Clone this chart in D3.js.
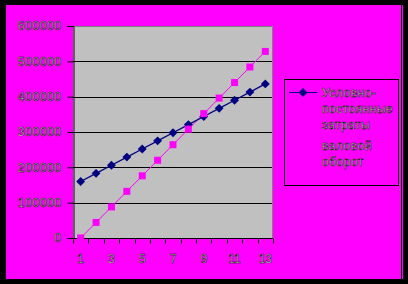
<!DOCTYPE html>
<html>
<head>
<meta charset="utf-8">
<script src="https://cdn.jsdelivr.net/npm/d3@7"></script>
<style>
  body { margin: 0; background: #000; }
  svg { display: block; }
  text { font-family: "Liberation Sans", Arial, sans-serif; }
</style>
</head>
<body>
<svg id="chart" width="408" height="284"></svg>
<script>
const periods = [1, 2, 3, 4, 5, 6, 7, 8, 9, 10, 11, 12, 13];
const fixedCosts = [160000, 183000, 206000, 229000, 252000, 275000, 298000, 321000, 344000, 367000, 390000, 413000, 436000];
const grossTurnover = [0, 44000, 88000, 132000, 176000, 220000, 264000, 308000, 352000, 396000, 440000, 484000, 528000];
const yTicks = [0, 100000, 200000, 300000, 400000, 500000, 600000];
const seriesNames = [["Условно-", "постоянные", "затраты"], ["валовой", "оборот"]];

const svg = d3.select("#chart");
const W = 408, H = 284;

// frame: black border, magenta area
svg.append("rect").attr("width", W).attr("height", H).attr("fill", "#000");
svg.append("rect").attr("x", 6).attr("y", 5).attr("width", 397).attr("height", 274).attr("fill", "#ff00ff");
svg.append("line").attr("x1", 401.5).attr("x2", 401.5).attr("y1", 5).attr("y2", 279)
  .attr("stroke", "#000").attr("stroke-width", 1);

const plot = { left: 73, right: 273, top: 26, bottom: 238 };

const x = d3.scaleBand().domain(periods).range([plot.left, plot.right]);
const y = d3.scaleLinear().domain([0, 600000]).range([plot.bottom, plot.top]);
const cx = d => x(d) + x.bandwidth() / 2;

// plot background
svg.append("rect")
  .attr("x", plot.left).attr("y", plot.top)
  .attr("width", plot.right - plot.left).attr("height", plot.bottom - plot.top)
  .attr("fill", "#c0c0c0");

// gridlines
svg.append("g")
  .selectAll("line")
  .data(yTicks.filter(d => d > 0 && d < 600000))
  .join("line")
  .attr("x1", plot.left).attr("x2", plot.right)
  .attr("y1", d => Math.round(y(d)) + 0.5).attr("y2", d => Math.round(y(d)) + 0.5)
  .attr("stroke", "#000");

// plot border (top + right grey)
svg.append("path")
  .attr("d", `M${plot.left},${plot.top + 0.5}H${plot.right - 0.5}V${plot.bottom}`)
  .attr("fill", "none").attr("stroke", "#808080");

// y axis
const yAxis = svg.append("g")
  .attr("transform", `translate(${plot.left + 0.5},0)`)
  .call(d3.axisLeft(y).tickValues(yTicks).tickSize(6).tickFormat(d3.format("d")));
yAxis.select(".domain").attr("stroke", "#000");
yAxis.selectAll(".tick line").attr("stroke", "#000");
yAxis.selectAll(".tick text")
  .attr("x", -12)
  .attr("fill", "#f4f4f4").attr("stroke", "#000").attr("stroke-width", 0.5)
  .style("font-size", "12px").style("letter-spacing", "0.6px");

// x axis: ticks on band boundaries
const xAxis = svg.append("g").attr("transform", `translate(0,${plot.bottom + 0.5})`);
xAxis.append("line")
  .attr("x1", plot.left).attr("x2", plot.right).attr("stroke", "#000");
xAxis.selectAll(".xtick")
  .data(periods.map(d => x(d)).concat([plot.right]))
  .join("line")
  .attr("class", "xtick")
  .attr("x1", d => Math.round(d) + 0.5).attr("x2", d => Math.round(d) + 0.5)
  .attr("y1", 0).attr("y2", 5)
  .attr("stroke", "#000");
xAxis.selectAll(".xlabel")
  .data(periods.filter(d => d % 2 === 1))
  .join("text")
  .attr("class", "xlabel")
  .attr("x", d => cx(d))
  .attr("y", 24)
  .attr("text-anchor", "middle")
  .attr("fill", "#f4f4f4").attr("stroke", "#000").attr("stroke-width", 0.5)
  .style("font-size", "12px")
  .text(d => d);

// series
const line = d3.line().x((d, i) => cx(periods[i])).y(d => y(d));

svg.append("path").datum(grossTurnover)
  .attr("d", line).attr("fill", "none").attr("stroke", "#ff00ff").attr("stroke-width", 1);
svg.append("path").datum(fixedCosts)
  .attr("d", line).attr("fill", "none").attr("stroke", "#000080").attr("stroke-width", 1.3);

const diamond = d3.symbol().type(d3.symbolDiamond2 || d3.symbolDiamond).size(50);

svg.append("g").selectAll("path")
  .data(fixedCosts)
  .join("path")
  .attr("transform", (d, i) => `translate(${cx(periods[i])},${y(d)})`)
  .attr("d", diamond)
  .attr("fill", "#000080");

svg.append("g").selectAll("rect")
  .data(grossTurnover)
  .join("rect")
  .attr("x", (d, i) => cx(periods[i]) - 3.5)
  .attr("y", d => y(d) - 3.5)
  .attr("width", 7).attr("height", 7)
  .attr("fill", "#ff00ff");

// legend
const legend = svg.append("g");
legend.append("rect")
  .attr("x", 284.5).attr("y", 79.5).attr("width", 114).attr("height", 106)
  .attr("fill", "none").attr("stroke", "#000");

const legendTop = [92, 145];
const colors = ["#000080", "#ff00ff"];
seriesNames.forEach((lines, s) => {
  legend.append("line")
    .attr("x1", 289).attr("x2", 317)
    .attr("y1", legendTop[s] + 0.5).attr("y2", legendTop[s] + 0.5)
    .attr("stroke", colors[s]).attr("stroke-width", 1);
  if (s === 0) {
    legend.append("path")
      .attr("transform", `translate(303,${legendTop[s] + 0.5})`)
      .attr("d", diamond).attr("fill", colors[s]);
  } else {
    legend.append("rect")
      .attr("x", 299.5).attr("y", legendTop[s] - 3).attr("width", 7).attr("height", 7)
      .attr("fill", colors[s]);
  }
  lines.forEach((t, k) => {
    legend.append("text")
      .attr("x", 322).attr("y", legendTop[s] + k * 16 + 4.5)
      .attr("fill", "#f4f4f4").attr("stroke", "#000").attr("stroke-width", 0.5)
      .style("font-size", "12px").style("letter-spacing", "0.5px")
      .text(t);
  });
});
</script>
</body>
</html>
